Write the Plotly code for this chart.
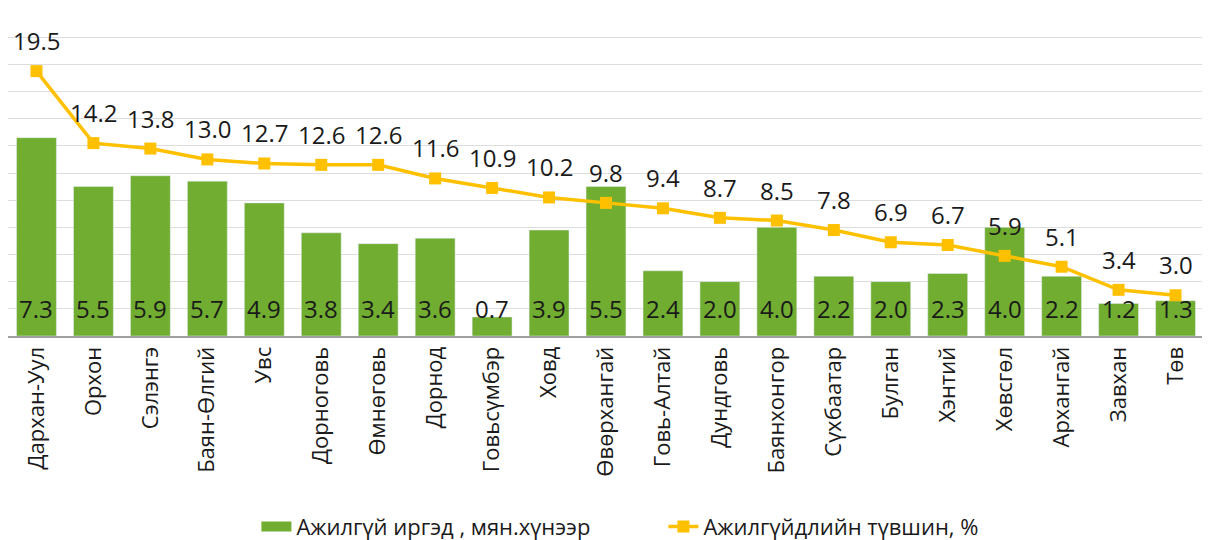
import plotly.graph_objects as go

categories = ["Дархан-Уул", "Орхон", "Сэлэнгэ", "Баян-Өлгий", "Увс", "Дорноговь", "Өмнөговь",
              "Дорнод", "Говьсүмбэр", "Ховд", "Өвөрхангай", "Говь-Алтай", "Дундговь", "Баянхонгор",
              "Сүхбаатар", "Булган", "Хэнтий", "Хөвсгөл", "Архангай", "Завхан", "Төв"]
unemployed = [7.3, 5.5, 5.9, 5.7, 4.9, 3.8, 3.4, 3.6, 0.7, 3.9, 5.5, 2.4, 2.0, 4.0, 2.2, 2.0, 2.3, 4.0, 2.2, 1.2, 1.3]
rate = [19.5, 14.2, 13.8, 13.0, 12.7, 12.6, 12.6, 11.6, 10.9, 10.2, 9.8, 9.4, 8.7, 8.5, 7.8, 6.9, 6.7, 5.9, 5.1, 3.4, 3.0]

bar_name = "Ажилгүй иргэд , мян.хүнээр"
line_name = "Ажилгүйдлийн түвшин, %"

FONT = "Open Sans"
GREEN = "#70AD30"
YELLOW = "#FFC000"

fig = go.Figure()
fig.add_trace(go.Bar(x=categories, y=unemployed, name=bar_name, marker_color=GREEN,
                     yaxis="y", showlegend=False))
# legend entry for bars drawn as a wide green block
fig.add_trace(go.Scatter(x=[None], y=[None], name=bar_name, mode="lines",
                         line=dict(color=GREEN, width=15), yaxis="y", showlegend=True))
fig.add_trace(go.Scatter(x=categories, y=rate, name=line_name, mode="lines+markers",
                         line=dict(color=YELLOW, width=3.5),
                         marker=dict(symbol="square", size=12, color=YELLOW),
                         yaxis="y2"))

annotations = []
for c, v in zip(categories, unemployed):
    annotations.append(dict(x=c, y=0, xref="x", yref="y", text=f"{v:.1f}", showarrow=False,
                            yanchor="bottom", yshift=9, font=dict(size=24, color="#1a1a1a", family=FONT)))
for c, v in zip(categories, rate):
    annotations.append(dict(x=c, y=v, xref="x", yref="y2", text=f"{v:.1f}", showarrow=False,
                            yanchor="bottom", yshift=12, font=dict(size=24, color="#1a1a1a", family=FONT)))

fig.update_layout(
    width=1210, height=540,
    margin=dict(l=0, r=14, t=2, b=210),
    paper_bgcolor="white", plot_bgcolor="white",
    font=dict(family=FONT, size=22, color="#1a1a1a"),
    bargap=0.3,
    showlegend=True,
    legend=dict(orientation="h", x=0.548, xanchor="center", y=-0.585, yanchor="middle",
                font=dict(size=22, family=FONT), itemwidth=30,
                entrywidth=362, entrywidthmode="pixels"),
    xaxis=dict(tickangle=-90, showline=True, linecolor="#A0A0A0", linewidth=2,
               tickfont=dict(size=22, family=FONT), ticks="", showgrid=False,
               range=[-0.5, len(categories) - 0.5], automargin=False),
    yaxis=dict(range=[0, 12], dtick=1, showticklabels=False, showgrid=True,
               gridcolor="#DDDDDD", gridwidth=1, zeroline=False),
    yaxis2=dict(range=[0, 24], dtick=2, overlaying="y", side="right", showticklabels=False,
                showgrid=False, zeroline=False),
    annotations=annotations,
)
fig.write_html("out.html")
